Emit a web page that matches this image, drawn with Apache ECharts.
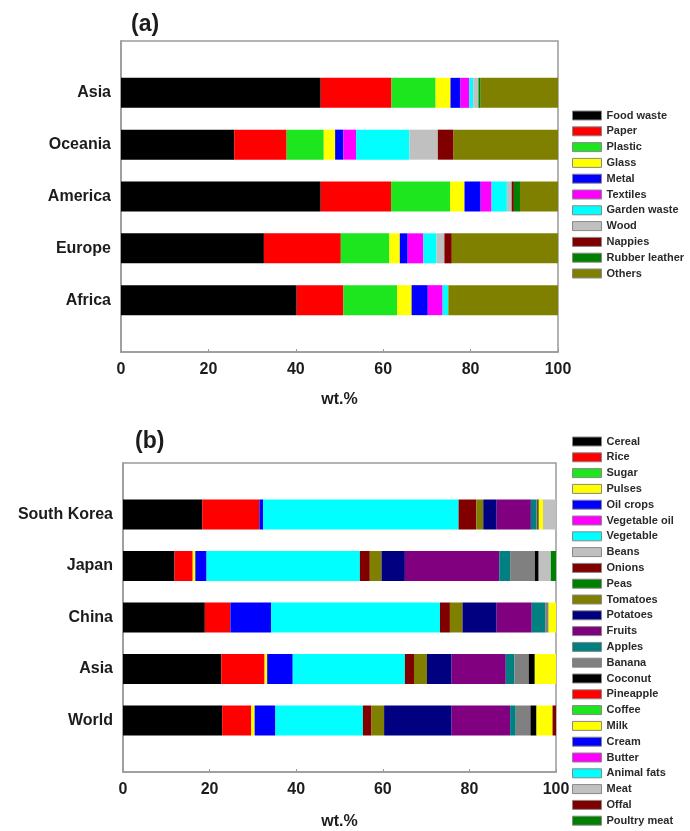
<!DOCTYPE html>
<html>
<head>
<meta charset="utf-8">
<title>Waste and food composition</title>
<script src="https://cdn.jsdelivr.net/npm/echarts@6/dist/echarts.min.js"></script>
<style>
  html, body { margin: 0; padding: 0; background: #fff; }
  #chart { width: 690px; height: 831px; }
</style>
</head>
<body>
<div id="chart"></div>
<script>
// ---- (a) municipal solid waste composition by region, wt.% ----
const wasteRegions = ['Africa', 'Europe', 'America', 'Oceania', 'Asia']; // bottom to top
const wasteParts = ['Food waste', 'Paper', 'Plastic', 'Glass', 'Metal', 'Textiles',
  'Garden waste', 'Wood', 'Nappies', 'Rubber leather', 'Others'];
const wasteColors = ['#000000', '#ff0000', '#1ee61e', '#ffff00', '#0000ff', '#ff00ff',
  '#00ffff', '#c0c0c0', '#800000', '#008000', '#808000'];
const wasteAfrica  = [40.2, 10.7, 12.3, 3.3, 3.7, 3.4, 1.3, 0, 0, 0, 25.1];
const wasteEurope  = [32.7, 17.6, 11.1, 2.4, 1.8, 3.6, 3.0, 1.8, 1.7, 0, 24.3];
const wasteAmerica = [45.7, 16.1, 13.5, 3.3, 3.7, 2.5, 3.5, 1.1, 0.5, 1.4, 8.7];
const wasteOceania = [25.9, 12.0, 8.5, 2.6, 1.9, 2.9, 12.2, 6.5, 3.6, 0, 23.9];
const wasteAsia    = [45.7, 16.2, 10.1, 3.4, 2.3, 2.0, 0.9, 1.2, 0, 0.5, 17.7];

// ---- (b) food supply composition by country / region, wt.% ----
const foodRegions = ['World', 'Asia', 'China', 'Japan', 'South Korea']; // bottom to top
const foodParts = ['Cereal', 'Rice', 'Sugar', 'Pulses', 'Oil crops', 'Vegetable oil',
  'Vegetable', 'Beans', 'Onions', 'Peas', 'Tomatoes', 'Potatoes', 'Fruits', 'Apples',
  'Banana', 'Coconut', 'Pineapple', 'Coffee', 'Milk', 'Cream', 'Butter', 'Animal fats',
  'Meat', 'Offal', 'Poultry meat'];
const foodColors = ['#000000', '#ff0000', '#1ee61e', '#ffff00', '#0000ff', '#ff00ff',
  '#00ffff', '#c0c0c0', '#800000', '#008000', '#808000', '#000080', '#800080', '#008080',
  '#808080', '#000000', '#ff0000', '#1ee61e', '#ffff00', '#0000ff', '#ff00ff', '#00ffff',
  '#c0c0c0', '#800000', '#008000'];
//                 Cer   Rice Sug Pul  Oil  VO  Veg  Bea Oni  Pea Tom  Pot   Fru   App  Ban  Coc  Pin Cof Milk Cre But AF  Meat Off  Pou
const foodWorld = [22.9, 6.7, 0, 0.8, 4.8, 0, 20.2, 0, 2.0, 0, 2.9, 15.6, 13.5, 1.3, 3.4, 1.4, 0, 0, 3.7, 0, 0, 0, 0,   0.8, 0];
const foodAsia  = [22.7, 10.0, 0, 0.6, 5.9, 0, 25.9, 0, 2.1, 0, 3.0, 5.7, 12.5, 2.0, 3.3, 1.4, 0, 0, 4.9, 0, 0, 0, 0,   0,   0];
const foodChina = [18.9, 5.9, 0, 0,   9.4, 0, 39.0, 0, 2.3, 0, 2.9, 7.9,  8.1,  3.1, 0.8, 0,   0, 0, 1.7, 0, 0, 0, 0,   0,   0];
const foodJapan = [11.9, 4.2, 0, 0.6, 2.6, 0, 35.4, 0, 2.3, 0, 2.7, 5.4, 21.8,  2.5, 5.7, 0.9, 0, 0, 0,   0, 0, 0, 2.8, 0,   1.2];
const foodKorea = [18.3, 13.2, 0, 0,  0.9, 0, 45.1, 0, 4.1, 0, 1.6, 3.1,  7.9,  1.2, 0.3, 0.3, 0, 0, 1.0, 0, 0, 0, 3.0, 0,   0];

const xTicks = [0, 20, 40, 60, 80, 100];

const txt = '#1c1c1c';
const frame = '#9a9a9a';
const font = 'Liberation Sans, Arial, sans-serif';

// rows of each panel, in category order (bottom to top)
const wasteRows = [wasteAfrica, wasteEurope, wasteAmerica, wasteOceania, wasteAsia];
const foodRows = [foodWorld, foodAsia, foodChina, foodJapan, foodKorea];

// Category axis padded with an empty slot on each side, so bars sit one step in from the frame
function padded(cats) { return [''].concat(cats, ['']); }

function stackSeries(parts, colors, rows, axisIdx, stackId) {
  return parts.map((name, j) => ({
    type: 'bar',
    name: name,
    stack: stackId,
    xAxisIndex: axisIdx,
    yAxisIndex: axisIdx,
    barWidth: 30,
    itemStyle: { color: colors[j] },
    emphasis: { disabled: true },
    data: [null].concat(rows.map(r => (r[j] > 0 ? r[j] : null)), [null])
  }));
}

function valueAxis(idx, nameGap) {
  return {
    type: 'value', gridIndex: idx, min: xTicks[0], max: xTicks[xTicks.length - 1],
    interval: xTicks[1] - xTicks[0],
    name: 'wt.%', nameLocation: 'middle', nameGap: nameGap,
    nameTextStyle: { color: txt, fontSize: 16, fontWeight: 'bold', fontFamily: font },
    axisLine: { show: true, lineStyle: { color: frame, width: 1.5 } },
    axisTick: { show: true, inside: true, length: 3, lineStyle: { color: frame } },
    splitLine: { show: false },
    axisLabel: { color: txt, fontSize: 16, fontWeight: 'bold', fontFamily: font, margin: 10 }
  };
}

function catAxis(idx, cats) {
  return {
    type: 'category', gridIndex: idx, data: padded(cats), boundaryGap: false,
    axisLine: { show: true, lineStyle: { color: frame, width: 1.5 } },
    axisTick: { show: false },
    axisLabel: { color: txt, fontSize: 16, fontWeight: 'bold', fontFamily: font, margin: 10,
      interval: 0 }
  };
}

function legendFor(parts, top) {
  return {
    data: parts, orient: 'vertical', left: 572, top: top, padding: 0,
    itemWidth: 29, itemHeight: 9, itemGap: 4.8, icon: 'rect',
    itemStyle: { borderColor: '#888', borderWidth: 1 },
    selectedMode: false,
    textStyle: { color: '#2a2a2a', fontSize: 11, fontWeight: 'bold', fontFamily: font,
      lineHeight: 11 }
  };
}

const chart = echarts.init(document.getElementById('chart'), null, { renderer: 'canvas' });
chart.setOption({
  animation: false,
  backgroundColor: '#ffffff',
  title: [
    { text: '(a)', left: 126, top: 8, textStyle: { color: txt, fontSize: 23, fontWeight: 'bold', fontFamily: font } },
    { text: '(b)', left: 130, top: 425, textStyle: { color: txt, fontSize: 23, fontWeight: 'bold', fontFamily: font } }
  ],
  grid: [
    { left: 121, width: 437, top: 41, height: 311, show: true, borderColor: frame, borderWidth: 1.5 },
    { left: 123, width: 433, top: 463, height: 311, show: true, borderColor: frame, borderWidth: 1.5 }
  ],
  xAxis: [valueAxis(0, 40), valueAxis(1, 42)],
  yAxis: [catAxis(0, wasteRegions), catAxis(1, foodRegions)],
  legend: [legendFor(wasteParts, 110), legendFor(foodParts, 436)],
  series: stackSeries(wasteParts, wasteColors, wasteRows, 0, 'waste')
    .concat(stackSeries(foodParts, foodColors, foodRows, 1, 'food'))
});
</script>
</body>
</html>
